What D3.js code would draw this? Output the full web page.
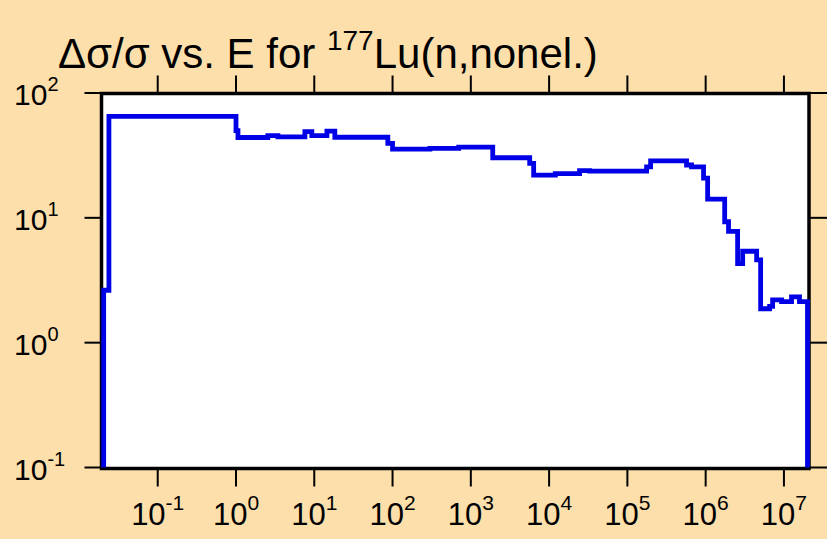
<!DOCTYPE html>
<html><head><meta charset="utf-8">
<script src="https://cdn.jsdelivr.net/npm/d3@7/dist/d3.min.js"></script>
<style>html,body{margin:0;padding:0;background:#FDDFAB;}svg{display:block;font-family:"Liberation Sans",Arial,sans-serif;}</style>
</head><body><svg id="c" width="827" height="539"></svg>
<script>
// Bin edges (energy, eV) and Δσ/σ (%) per bin
const binEdges = [0.0204, 0.0238, 1.0, 1.06, 2.55, 3.43, 7.59, 9.31, 14.5, 18.3, 87, 100, 300, 700, 1905,
  5650, 6350, 12000, 24500, 33000, 1.76e5, 1.98e5, 5.7e5, 6.6e5, 9.4e5, 1.06e6, 1.75e6, 1.96e6, 2.56e6,
  2.97e6, 4.48e6, 5.04e6, 6.56e6, 7.17e6, 9.33e6, 1.25e7, 1.58e7, 2.0e7];
const binValues = [2.63, 65, 50, 44, 45.5, 44.5, 49, 45.5, 49.5, 44.2, 39.5, 35.5, 36, 36.8,
  30.3, 27.3, 22, 22.6, 23.9, 23.7, 25.6, 28.6, 26.5, 25.6, 20.8, 14.1, 9.3, 7.8,
  4.3, 5.4, 4.6, 1.87, 1.95, 2.2, 2.13, 2.33, 2.13];
const xTickExps = [-1, 0, 1, 2, 3, 4, 5, 6, 7];
const yTickExps = [-1, 0, 1, 2];
const titleMain = "Δσ/σ vs. E for ";
const titleSup = "177";
const titleRest = "Lu(n,nonel.)";

const svg = d3.select("#c");
const L = 101.5, R = 809, T = 93.5, B = 468.5;
const x = d3.scaleLog().domain([0.02, 2e7]).range([L + 1.5, R - 1.5]);
const y = d3.scaleLog().domain([0.1, 100]).range([B - 1, T - 0.5]);

svg.append("rect").attr("x", L).attr("y", T).attr("width", R - L).attr("height", B - T).attr("fill", "#fff");

// ticks
const tickW = 2;
xTickExps.forEach(e => {
  const px = x(Math.pow(10, e));
  svg.append("line").attr("x1", px).attr("x2", px).attr("y1", B).attr("y2", B + 18).attr("stroke", "#000").attr("stroke-width", tickW);
  svg.append("line").attr("x1", px).attr("x2", px).attr("y1", T).attr("y2", T - 18).attr("stroke", "#000").attr("stroke-width", tickW);
  const t = svg.append("text").attr("x", px).attr("y", 525).attr("text-anchor", "middle").attr("font-size", 31);
  t.append("tspan").text("10");
  t.append("tspan").attr("font-size", 21).attr("dy", -15).text(String(e));
});
yTickExps.forEach(e => {
  const py = y(Math.pow(10, e));
  svg.append("line").attr("x1", L).attr("x2", L - 17).attr("y1", py).attr("y2", py).attr("stroke", "#000").attr("stroke-width", tickW);
  svg.append("line").attr("x1", R).attr("x2", R + 18).attr("y1", py).attr("y2", py).attr("stroke", "#000").attr("stroke-width", tickW);
  const t = svg.append("text").attr("x", 14).attr("y", py + 12).attr("text-anchor", "start").attr("font-size", 30);
  t.append("tspan").text("10");
  t.append("tspan").attr("font-size", 20).attr("dy", -14).text(String(e));
});

svg.append("rect").attr("x", L).attr("y", T).attr("width", R - L).attr("height", B - T)
  .attr("fill", "none").attr("stroke", "#000").attr("stroke-width", 3.5);

// step line
const pts = [[binEdges[0], y.domain()[0]]];
binValues.forEach((v, i) => { pts.push([binEdges[i], v]); pts.push([binEdges[i + 1], v]); });
pts.push([binEdges[binEdges.length - 1], y.domain()[0]]);
svg.append("path").attr("d", d3.line().x(d => x(d[0])).y(d => y(d[1]))(pts))
  .attr("fill", "none").attr("stroke", "#0000E6").attr("stroke-width", 4.8).attr("stroke-linejoin", "miter");

// title
const tt = svg.append("text").attr("x", 58).attr("y", 68).attr("font-size", 42);
tt.append("tspan").text(titleMain);
tt.append("tspan").attr("font-size", 28).attr("dy", -18).text(titleSup);
tt.append("tspan").attr("dy", 18).text(titleRest);
</script></body></html>
